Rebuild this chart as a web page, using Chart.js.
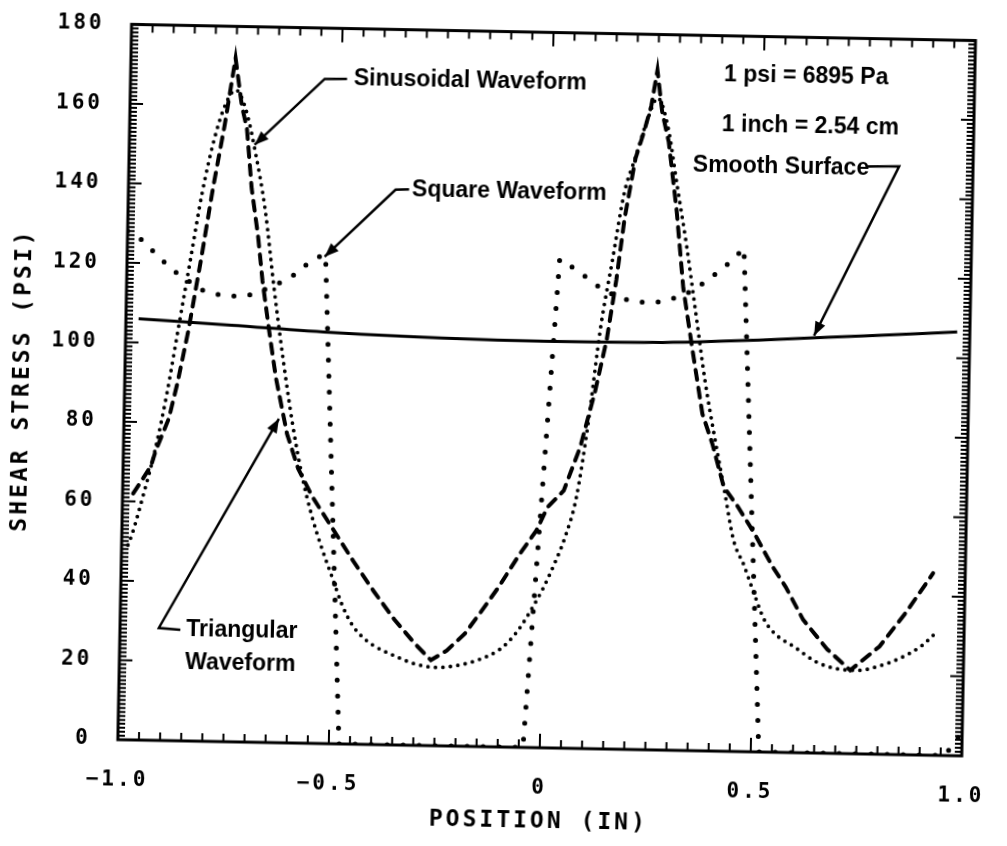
<!DOCTYPE html>
<html>
<head>
<meta charset="utf-8">
<script src="https://cdn.jsdelivr.net/npm/chart.js@4.4.1/dist/chart.umd.min.js"></script>
<style>
  html, body { margin: 0; padding: 0; background: #fff; overflow: hidden; }
  #plot { display: block; transform: rotate(1.1deg); }
</style>
</head>
<body>
<canvas id="plot" width="1007" height="846"></canvas>
<script>
// shear stress along the specimen, one series per surface profile
const sinX = [-0.985, -0.975, -0.95, -0.925, -0.9, -0.875, -0.85, -0.825, -0.8, -0.775, -0.75, -0.725, -0.7, -0.675, -0.65, -0.625, -0.6, -0.575, -0.55, -0.525, -0.5, -0.475, -0.45, -0.425, -0.4, -0.35, -0.3, -0.25, -0.2, -0.15, -0.1, -0.075, -0.05, -0.025, 0, 0.025, 0.05, 0.075, 0.1, 0.125, 0.15, 0.175, 0.2, 0.225, 0.25, 0.275, 0.3, 0.325, 0.35, 0.375, 0.4, 0.425, 0.45, 0.475, 0.5, 0.525, 0.55, 0.6, 0.65, 0.7, 0.75, 0.8, 0.85, 0.9, 0.93];
const sinY = [49, 52, 62, 73, 87, 104, 121, 138, 151, 160, 164, 159, 148, 134, 114, 96, 80, 67, 57, 49, 42, 35, 30, 27, 25, 22.5, 20.5, 19.7, 20.3, 21.8, 24.5, 27, 30.5, 35, 40, 46, 53, 63, 82, 106, 123, 140, 149, 158, 164, 157, 142, 127, 110, 93, 79, 66, 53, 47, 40, 33.5, 30, 26.5, 23, 21.3, 21, 22.2, 24.3, 27.5, 30.5];

const triX = [-0.975, -0.957, -0.934, -0.923, -0.894, -0.875, -0.852, -0.825, -0.8, -0.775, -0.752, -0.735, -0.722, -0.708, -0.691, -0.678, -0.66, -0.642, -0.613, -0.585, -0.55, -0.5, -0.45, -0.4, -0.35, -0.3, -0.262, -0.225, -0.183, -0.145, -0.105, -0.056, -0.018, 0.007, 0.045, 0.082, 0.115, 0.14, 0.16, 0.177, 0.2, 0.219, 0.235, 0.248, 0.261, 0.278, 0.3, 0.319, 0.344, 0.37, 0.395, 0.424, 0.459, 0.499, 0.543, 0.575, 0.618, 0.677, 0.732, 0.8, 0.86, 0.924];
const triY = [62, 65, 69, 73, 81, 90, 103, 121, 139, 155, 172, 160, 154.4, 139.3, 127.6, 116, 103.5, 91.8, 77.7, 69, 62, 54, 46, 38.5, 31.5, 25.5, 21.5, 24, 28.3, 34, 40.2, 48.7, 54.6, 60.5, 64.8, 75.8, 90, 103, 118, 133.7, 148.7, 155.5, 162, 171, 160.6, 153, 135.6, 116.4, 100.6, 84.8, 77.3, 66.5, 61.5, 54.9, 46.7, 41.7, 33.5, 26.1, 21, 27.1, 35.6, 45.8];

const sqX = [-1.0, -0.967, -0.94, -0.913, -0.882, -0.85, -0.823, -0.784, -0.75, -0.711, -0.68, -0.646, -0.608, -0.58, -0.548, -0.53, -0.476, -0.04, 0.025, 0.067, 0.098, 0.13, 0.165, 0.196, 0.231, 0.269, 0.315, 0.345, 0.373, 0.406, 0.433, 0.461, 0.519, 0.96, 1.0];
const sqY = [128, 125.9, 123.2, 120.5, 117.7, 115.5, 113.6, 112.5, 112.1, 112.4, 113.6, 115.2, 117.4, 120, 122.3, 123, 0, 0, 123, 120.3, 117.8, 115.4, 113.8, 112.8, 112.5, 112.8, 114.3, 116, 118.2, 121, 123.5, 126.7, 0, 0, 6];

const smoothX = [-0.97, -0.75, -0.5, -0.25, 0, 0.25, 0.5, 0.75, 0.97];
const smoothY = [106, 104.8, 103.4, 102.6, 102.3, 102.5, 103.6, 105.2, 106.6];

// axis ranges and tick spacing
const xRange = [-1, 1];
const yRange = [0, 180];
const xLabelStep = 0.5, xMinorStep = 0.05;
const yLabelStep = 20, yMinorStep = 1;

const pts = (xs, ys) => xs.map((x, i) => ({x: x, y: ys[i]}));

// callouts, placed in data units
const notes = [
	{text: 'Sinusoidal Waveform', x: -0.471, y: 167.5},
	{text: 'Square Waveform', x: -0.328, y: 139.8},
	{text: '1 psi = 6895 Pa', x: 0.406, y: 170.2},
	{text: '1 inch = 2.54 cm', x: 0.403, y: 157.6},
	{text: 'Smooth Surface', x: 0.336, y: 147.4},
	{text: 'Triangular', x: -0.843, y: 27.9},
	{text: 'Waveform', x: -0.844, y: 19.6}
];
const leaders = [
	[[-0.487, 167.3], [-0.540, 167.2], [-0.703, 150.3]],
	[[-0.335, 139.8], [-0.367, 139.7], [-0.532, 122.5]],
	[[0.751, 147.8], [0.825, 148.0], [0.631, 105.0]],
	[[-0.857, 27.9], [-0.908, 28.3], [-0.633, 81.5]]
];

const paper = {
	id: 'paper',
	beforeDraw(chart){
		const ctx = chart.ctx;
		ctx.save();
		ctx.fillStyle = '#fff';
		ctx.fillRect(0, 0, chart.width, chart.height);
		ctx.restore();
		// plotter lettering is widely spaced
		ctx.letterSpacing = '3px';
	}
};

// box and inward ticks on all four sides
const frame = {
	id: 'frame',
	afterDatasetsDraw(chart){
		const {ctx, chartArea: a, scales: {x, y}} = chart;
		ctx.save();
		ctx.strokeStyle = '#000';
		ctx.lineWidth = 3;
		ctx.strokeRect(a.left, a.top, a.right - a.left, a.bottom - a.top);

		ctx.lineWidth = 2;
		ctx.beginPath();
		for(let v = yRange[0]; v <= yRange[1]; v += yMinorStep){
			const py = y.getPixelForValue(v);
			const len = v % yLabelStep === 0 ? 13 : 7;
			ctx.moveTo(a.left, py); ctx.lineTo(a.left + len, py);
			ctx.moveTo(a.right, py); ctx.lineTo(a.right - len, py);
		}
		const n = Math.round((xRange[1] - xRange[0]) / xMinorStep);
		const every = Math.round(xLabelStep / xMinorStep);
		for(let i = 0; i <= n; i++){
			const px = x.getPixelForValue(xRange[0] + i * xMinorStep);
			const len = i % every === 0 ? 14 : 8;
			ctx.moveTo(px, a.bottom); ctx.lineTo(px, a.bottom - len);
			ctx.moveTo(px, a.top); ctx.lineTo(px, a.top + len);
		}
		ctx.stroke();
		ctx.restore();
	}
};

const callouts = {
	id: 'callouts',
	afterDraw(chart){
		const {ctx, scales: {x, y}} = chart;
		ctx.save();
		ctx.letterSpacing = '0px';
		ctx.fillStyle = '#000';
		ctx.strokeStyle = '#000';
		ctx.font = 'bold 23px "Liberation Sans", Arial, sans-serif';
		ctx.textBaseline = 'middle';
		notes.forEach((n)=>{
			ctx.fillText(n.text, x.getPixelForValue(n.x), y.getPixelForValue(n.y));
		});

		ctx.lineWidth = 2.5;
		leaders.forEach((path)=>{
			const p = path.map(([vx, vy]) => [x.getPixelForValue(vx), y.getPixelForValue(vy)]);
			ctx.beginPath();
			ctx.moveTo(p[0][0], p[0][1]);
			for(let i = 1; i < p.length; i++) ctx.lineTo(p[i][0], p[i][1]);
			ctx.stroke();
			// arrow head at the last point
			const [tx, ty] = p[p.length - 1];
			const [sx, sy] = p[p.length - 2];
			const ang = Math.atan2(ty - sy, tx - sx);
			ctx.beginPath();
			ctx.moveTo(tx, ty);
			ctx.lineTo(tx - 14 * Math.cos(ang) + 5.5 * Math.sin(ang), ty - 14 * Math.sin(ang) - 5.5 * Math.cos(ang));
			ctx.lineTo(tx - 14 * Math.cos(ang) - 5.5 * Math.sin(ang), ty - 14 * Math.sin(ang) + 5.5 * Math.cos(ang));
			ctx.closePath();
			ctx.fill();
		});
		ctx.restore();
	}
};

const tickFont = {family: '"DejaVu Sans Mono", monospace', size: 21, weight: 'bold'};
const titleFont = {family: '"DejaVu Sans Mono", monospace', size: 23, weight: 'bold'};

new Chart(document.getElementById('plot'), {
	type: 'line',
	data: {
		datasets: [
			{
				label: 'Smooth Surface',
				data: pts(smoothX, smoothY),
				borderColor: '#000',
				borderWidth: 3,
				cubicInterpolationMode: 'monotone'
			},
			{
				label: 'Sinusoidal Waveform',
				data: pts(sinX, sinY),
				borderColor: '#000',
				borderWidth: 3.8,
				borderDash: [0, 7.5],
				borderCapStyle: 'round',
				cubicInterpolationMode: 'monotone'
			},
			{
				label: 'Triangular Waveform',
				data: pts(triX, triY),
				borderColor: '#000',
				borderWidth: 4,
				borderDash: [10, 8],
				borderCapStyle: 'round'
			},
			{
				label: 'Square Waveform',
				data: pts(sqX, sqY),
				borderColor: '#000',
				borderWidth: 5,
				borderDash: [0, 16],
				borderCapStyle: 'round'
			}
		]
	},
	options: {
		responsive: false,
		animation: false,
		events: [],
		elements: { point: { radius: 0 } },
		layout: { padding: { top: 26, right: 16, left: 0, bottom: 0 } },
		plugins: {
			legend: { display: false },
			tooltip: { enabled: false }
		},
		scales: {
			x: {
				type: 'linear',
				min: xRange[0],
				max: xRange[1],
				grid: { display: false },
				border: { display: false },
				ticks: {
					stepSize: xLabelStep,
					color: '#000',
					font: tickFont,
					padding: 20,
					maxRotation: 0,
					callback: (v) => v === 0 ? '0' : (v < 0 ? '\u2212' : '') + Math.abs(v).toFixed(1)
				},
				title: {
					display: true,
					text: 'POSITION (IN)',
					color: '#000',
					font: titleFont,
					padding: { top: 0, bottom: 11 }
				},
				afterFit: (scale) => { scale.height = 99; }
			},
			y: {
				min: yRange[0],
				max: yRange[1],
				grid: { display: false },
				border: { display: false },
				ticks: {
					stepSize: yLabelStep,
					color: '#000',
					font: tickFont,
					padding: 19
				},
				title: {
					display: true,
					text: 'SHEAR STRESS (PSI)',
					color: '#000',
					font: titleFont,
					padding: { top: 8, bottom: 0 }
				},
				afterFit: (scale) => { scale.width = 124; }
			}
		}
	},
	plugins: [paper, frame, callouts]
});
</script>
</body>
</html>
